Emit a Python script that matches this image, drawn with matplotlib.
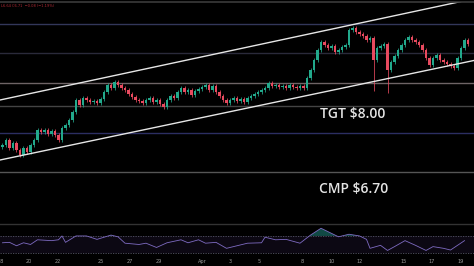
import matplotlib
matplotlib.use("Agg")
import matplotlib.pyplot as plt
import numpy as np

# ---------------- data ----------------
# 6-hour candle closes (price units), open = previous close
closes = [7.24, 7.34, 7.18, 7.28, 7.14, 7.04, 7.18, 7.10, 7.24, 7.34,
          7.54, 7.50, 7.54, 7.46, 7.52, 7.44, 7.34, 7.58, 7.64, 7.74,
          7.90, 8.14, 8.04, 8.18, 8.14, 8.10, 8.12, 8.08, 8.16, 8.30,
          8.44, 8.38, 8.50, 8.44, 8.38, 8.34, 8.26, 8.20, 8.14, 8.12,
          8.08, 8.14, 8.18, 8.10, 8.14, 8.06, 8.00, 8.14, 8.22, 8.18,
          8.30, 8.38, 8.30, 8.34, 8.24, 8.32, 8.36, 8.40, 8.44, 8.34,
          8.42, 8.30, 8.22, 8.14, 8.08, 8.14, 8.18, 8.12, 8.16, 8.10,
          8.18, 8.22, 8.26, 8.30, 8.34, 8.38, 8.48, 8.42, 8.44, 8.40,
          8.42, 8.38, 8.44, 8.40, 8.38, 8.42, 8.38, 8.58, 8.74, 8.94,
          9.14, 9.30, 9.24, 9.18, 9.22, 9.10, 9.14, 9.20, 9.24, 9.54,
          9.58, 9.50, 9.46, 9.42, 9.34, 9.38, 8.94, 9.18, 9.22, 9.26,
          8.74, 8.90, 9.02, 9.14, 9.24, 9.34, 9.40, 9.34, 9.30, 9.24,
          9.14, 8.98, 8.84, 8.98, 9.04, 8.94, 8.90, 8.86, 8.82, 8.78,
          8.98, 9.18, 9.34, 9.26]
first_open = 7.20
wick = 0.045
long_lows = {106: 8.32, 110: 8.28}

# horizontal levels and their colours
levels = [9.66, 9.08, 8.48, 8.02, 7.48, 6.70]
level_colors = ["#33375a", "#2a2a3a", "#6e6466", "#444444", "#2c2e62", "#555555"]

# trend channel (candle index, price)
chan_x = [-0.714, 135.0]
chan_upper = [8.14, 10.17]
chan_lower = [6.94, 8.935]

# RSI
rsi_x = [0, 2, 4, 6, 8, 10, 14, 16, 17, 18, 21, 24, 27, 31, 33, 35, 39, 41, 44, 47,
         51, 53, 56, 58, 61, 64, 66, 70, 74, 75, 78, 81, 85, 88, 91, 94, 96, 99, 102,
         104, 105, 108, 110, 112, 115, 118, 121, 123, 126, 128, 132]
rsi_v = [54, 55, 47, 54, 50, 61, 59, 61, 70, 55, 70, 70, 62, 72, 68, 53, 50, 53, 43, 54,
         61, 54, 61, 53, 55, 41, 45, 53, 54, 67, 61, 62, 53, 72, 88, 76, 68, 74, 70,
         62, 41, 48, 36, 45, 59, 48, 36, 45, 41, 37, 59]

# date ticks (days relative to Mar 20) and labels
tick_days = [-2, 0, 2, 5, 7, 9, 12, 14, 16, 19, 21, 23, 26, 28, 30]
tick_labels = ["18", "20", "22", "25", "27", "29", "Apr", "3", "5", "8", "10", "12", "15", "17", "19"]

# ---------------- figure ----------------
W, H = 474, 266
fig = plt.figure(figsize=(W / 100, H / 100), dpi=100)
fig.patch.set_facecolor("#000000")

ax = fig.add_axes([0, (H - 222) / H, 1, 220 / H])
rax = fig.add_axes([0, (H - 256) / H, 1, 32 / H])
for a in (ax, rax):
    a.set_facecolor("#000000")
    for s in a.spines.values():
        s.set_visible(False)
    a.set_xlim(-0.714, 134.71)

ax.set_ylim(5.70, 10.10)
ax.set_xticks([])
ax.set_yticks([])

for lv, c in zip(levels, level_colors):
    ax.axhline(lv, color=c, lw=1.0, zorder=1)

# candles
opens = [first_open] + closes[:-1]
up_c, dn_c = "#22a98c", "#e84a5f"
for i, (o, c) in enumerate(zip(opens, closes)):
    col = up_c if c >= o else dn_c
    lo = long_lows.get(i, min(o, c) - wick)
    hi = max(o, c) + wick
    ax.vlines(i, lo, hi, color=col, lw=0.55, zorder=3)
    h = abs(c - o)
    if h < 0.012:
        h = 0.012
    ax.bar(i, h, bottom=min(o, c), width=0.72, color=col, lw=0, zorder=4)

ax.plot(chan_x, chan_upper, color="#e6e6e6", lw=1.0, zorder=5)
ax.plot(chan_x, chan_lower, color="#e6e6e6", lw=1.0, zorder=5)

# annotations
fig.text(320 / W, 1 - 114 / H, "TGT $8.00", color="#e4e4e4", fontsize=10,
         family="Open Sans", weight="semibold", va="center", ha="left")
fig.text(319 / W, 1 - 189.5 / H, "CMP $6.70", color="#e4e4e4", fontsize=10,
         family="Open Sans", weight="semibold", va="center", ha="left")
fig.text(1 / W, 1 - 6 / H, "L6.64 C6.71  \u22120.08 (\u22121.19%)", color="#b02a35",
         fontsize=2.6, va="center", ha="left")
fig.add_artist(plt.Line2D([0, 1], [1 - 1.5 / H, 1 - 1.5 / H], color="#3a3a3a", lw=1.2,
                          transform=fig.transFigure))
fig.add_artist(plt.Line2D([0, 1], [1 - 223.5 / H, 1 - 223.5 / H], color="#333333", lw=1.0,
                          transform=fig.transFigure))

# RSI pane
rax.set_ylim(23, 98)
rax.axhspan(30, 70, color="#7e57c2", alpha=0.10, lw=0)
rax.axhline(70, color="#555566", lw=0.6, ls=(0, (1.5, 1.5)))
rax.axhline(30, color="#555566", lw=0.6, ls=(0, (1.5, 1.5)))
rx = np.array(rsi_x, float)
rv = np.array(rsi_v, float)
rax.plot(rx, rv, color="#7e6bc2", lw=0.6, zorder=3)
rax.fill_between(rx, 70, rv, where=rv > 70, interpolate=True, color="#26a69a", alpha=0.45, lw=0)
rax.set_yticks([])

tick_pos = [7.66 + d * 4.108 for d in tick_days]
rax.set_xticks(tick_pos)
rax.set_xticklabels(tick_labels, fontsize=3.6, color="#9a9a9a")
rax.tick_params(axis="x", length=0, pad=2.5)

fig.savefig("out.png", dpi=100, facecolor=fig.get_facecolor())
